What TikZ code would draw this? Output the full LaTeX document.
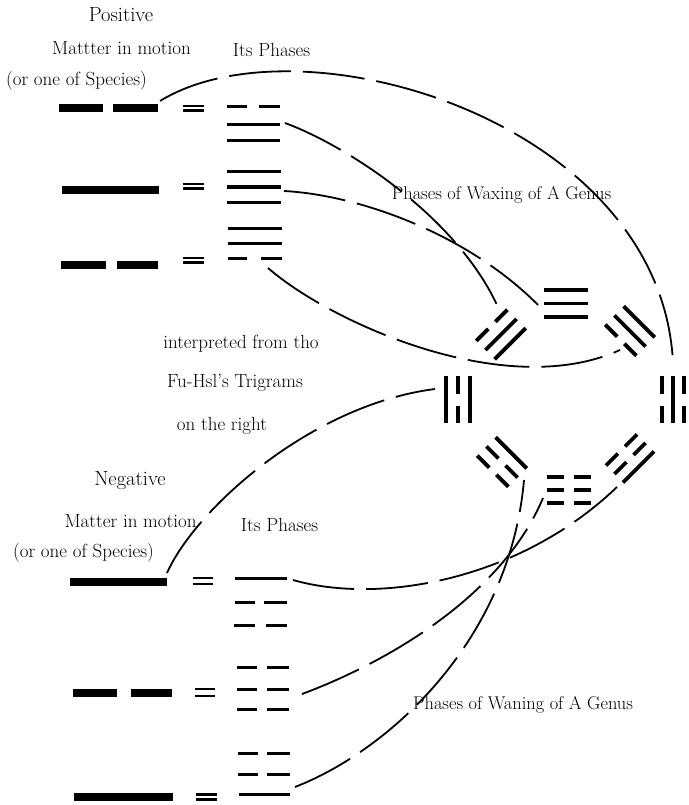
\documentclass[tikz,border=0pt]{standalone}
\begin{document}
\begin{tikzpicture}[x=1pt,y=-1pt,
  lbl/.style={font=\fontsize{19}{22}\selectfont, inner sep=0pt, anchor=base},
  lblb/.style={font=\fontsize{20.5}{24}\selectfont, inner sep=0pt, anchor=base},
  lblw/.style={font=\fontsize{18.4}{22}\selectfont, inner sep=0pt, anchor=base},
  conn/.style={line width=1.8pt, dash pattern=on 62pt off 12pt},
  bigbar/.style={fill=black, draw=none, inner sep=0pt, minimum height=7.5pt},
  ph/.style={line width=3pt},
  tg/.style={line width=3.8pt},
  eq/.style={line width=2.1pt}]
\fill[white] (0,0) rectangle (688,805);
\useasboundingbox (0,0) rectangle (688,805);

% ---------- labels ----------
\node[lblb] (tpos) at (121,22) {Positive};
\node[lbl] (tmat1) at (121.5,55) {Mattter in motion};
\node[lbl] (tsp1) at (76.5,86) {(or one of Species)};
\node[lbl] (tph1) at (271.5,57) {Its Phases};
\node[lblw] (twax) at (501.5,200) {Phases of Waxing of A Genus};
\node[lbl] (tint) at (241,348) {interpreted from tho};
\node[lbl] (tfu) at (235,387) {Fu-Hsl's Trigrams};
\node[lbl] (tright) at (222,430) {on the right};
\node[lblb] (tneg) at (130,485) {Negative};
\node[lbl] (tmat2) at (130.5,527) {Matter in motion};
\node[lbl] (tsp2) at (83.5,557) {(or one of Species)};
\node[lbl] (tph2) at (279.5,531) {Its Phases};
\node[lblw] (twan) at (523,709) {Phases of Waning of A Genus};

% ---------- left bars (positive) ----------
\node[bigbar, minimum width=44pt] (p1a) at (81,108) {};
\node[bigbar, minimum width=45pt] (p1b) at (135.5,108) {};
\node[bigbar, minimum width=97pt] (p2) at (110.5,190) {};
\node[bigbar, minimum width=45pt] (p3a) at (83.5,265) {};
\node[bigbar, minimum width=41pt] (p3b) at (137.5,265) {};
% ---------- left bars (negative) ----------
\node[bigbar, minimum width=97pt, minimum height=8pt] (n1) at (118.5,582) {};
\node[bigbar, minimum width=44pt, minimum height=8pt] (n2a) at (95,693) {};
\node[bigbar, minimum width=41pt, minimum height=8pt] (n2b) at (151.5,693) {};
\node[bigbar, minimum width=99pt, minimum height=8pt] (n3) at (123.5,797) {};

% ---------- equal signs ----------
\draw[eq] (183,106) -- (204,106) (183,110.5) -- (204,110.5);
\draw[eq] (183,184) -- (204,184) (183,188.5) -- (204,188.5);
\draw[eq] (183,258) -- (204,258) (183,262.5) -- (204,262.5);
\draw[eq] (193,578) -- (213,578) (193,584) -- (213,584);
\draw[eq] (195,689) -- (215,689) (195,696) -- (215,696);
\draw[eq] (196,794.5) -- (217,794.5) (196,799.5) -- (217,799.5);

% ---------- phase trigrams (positive) ----------
\draw[ph] (227,107) -- (247,107) (259,107) -- (280,107);
\draw[ph] (227,124.5) -- (280,124.5);
\draw[ph] (227,141) -- (280,141);
\draw[ph] (227,172) -- (281,172);
\draw[ph] (227,187) -- (281,187);
\draw[ph] (227,202) -- (281,202);
\draw[ph] (228,228.5) -- (282,228.5);
\draw[ph] (228,243) -- (282,243);
\draw[ph] (228,258.5) -- (247,258.5) (261,258.5) -- (282,258.5);
% ---------- phase trigrams (negative) ----------
\draw[ph] (235,578) -- (287,578);
\draw[ph] (235,602) -- (255,602) (264,602) -- (287,602);
\draw[ph] (234,625) -- (255,625) (266,625) -- (287,625);
\draw[ph] (237,667) -- (257,667) (267,667) -- (289,667);
\draw[ph] (237,689) -- (257,689) (267,689) -- (289,689);
\draw[ph] (237,709) -- (257,709) (267,709) -- (289,709);
\draw[ph] (238,753) -- (258,753) (267,753) -- (290,753);
\draw[ph] (238,774) -- (258,774) (267,774) -- (290,774);
\draw[ph] (239,794) -- (290,794);

% ---------- Fu-Hsi trigrams ----------
% local x along the lines, local y across
\newcommand{\tgS}[1]{\draw[tg] (-22,#1) -- (22,#1);}
\newcommand{\tgB}[1]{\draw[tg] (-22,#1) -- (-5,#1) (5,#1) -- (22,#1);}
% top (three solid)
\begin{scope}[shift={(566,303.5)}]
\tgS{-13.5}\tgS{0}\tgS{13.5}
\end{scope}
% bottom (three broken)
\begin{scope}[shift={(569,490)}]
\tgB{-13}\tgB{0}\tgB{13}
\end{scope}
% left (vertical: solid, broken, solid)
\begin{scope}[shift={(458,399.5)}, x={(0pt,-1pt)}, y={(1pt,0pt)}]
\draw[tg] (-23.5,-12) -- (23.5,-12);
\draw[tg] (-23.5,0) -- (-6,0) (6,0) -- (23.5,0);
\draw[tg] (-23.5,12) -- (23.5,12);
\end{scope}
% right (vertical: broken, solid, broken)
\begin{scope}[shift={(673,399.5)}, x={(0pt,-1pt)}, y={(1pt,0pt)}]
\draw[tg] (-23.5,-11) -- (-6,-11) (6,-11) -- (23.5,-11);
\draw[tg] (-23.5,0) -- (23.5,0);
\draw[tg] (-23.5,11) -- (-6,11) (6,11) -- (23.5,11);
\end{scope}
% upper left
\begin{scope}[shift={(501,334.5)}, x={(0.7071pt,0.7071pt)}, y={(0.7071pt,-0.7071pt)}]
\tgB{-13}\tgS{0}\tgS{13}
\end{scope}
% upper right
\begin{scope}[shift={(630,331)}, x={(0.7071pt,-0.7071pt)}, y={(-0.7071pt,-0.7071pt)}]
\tgS{-13}\tgS{0}\tgB{13}
\end{scope}
% lower left
\begin{scope}[shift={(502,462)}, x={(0.7071pt,-0.7071pt)}, y={(0.7071pt,0.7071pt)}]
\tgB{-13}\tgB{0}\tgS{13}
\end{scope}
% lower right
\begin{scope}[shift={(630,458.5)}, x={(0.7071pt,0.7071pt)}, y={(-0.7071pt,0.7071pt)}]
\tgB{12}\tgB{0}\tgS{-12}
\end{scope}

% ---------- connector end points ----------
\coordinate (a1) at (160,101);  \coordinate (b1) at (673,362);
\coordinate (a2) at (285,123);  \coordinate (b2) at (497,305);
\coordinate (a3) at (284,191);  \coordinate (b3) at (540,307);
\coordinate (a4) at (268,268);  \coordinate (b4) at (620,350);
\coordinate (a5) at (167,573);  \coordinate (b5) at (435,389);
\coordinate (a6) at (293,580);  \coordinate (b6) at (617,487);
\coordinate (a7) at (302,694);  \coordinate (b7) at (543,498);
\coordinate (a8) at (295,787);  \coordinate (b8) at (524,480);

% ---------- connectors ----------
\draw[conn] (a1) .. controls (300,15) and (660,120) .. (b1);
\draw[conn] (a2) .. controls (345,145) and (455,215) .. (b2);
\draw[conn] (a3) .. controls (360,195) and (470,235) .. (b3);
\draw[conn] (a4) .. controls (330,322) and (505,402) .. (b4);
\draw[conn] (a5) .. controls (195,510) and (310,405) .. (b5);
\draw[conn] (a6) .. controls (380,605) and (520,580) .. (b6);
\draw[conn] (a7) .. controls (380,665) and (500,600) .. (b7);
\draw[conn] (a8) .. controls (390,750) and (510,640) .. (b8);
\end{tikzpicture}
\end{document}
